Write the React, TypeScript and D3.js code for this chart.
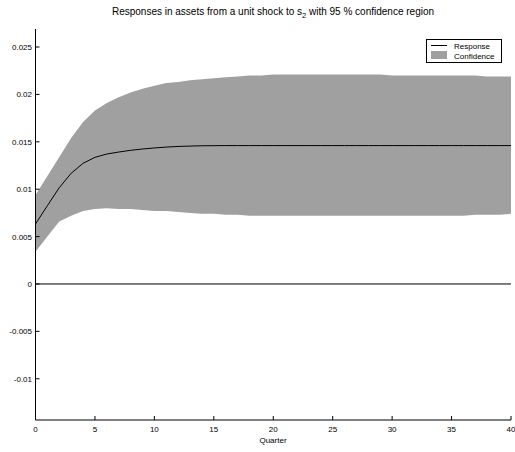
import React from "react";
import * as d3 from "d3";

// Impulse response of assets to a unit shock, quarters 0..40
const quarters = d3.range(0, 41);
const response = [
  0.00633, 0.00826, 0.01016, 0.01168, 0.01273, 0.01336, 0.01371, 0.01392, 0.0141, 0.01424,
  0.01435, 0.01444, 0.01451, 0.01455, 0.01458, 0.01459, 0.0146, 0.0146, 0.0146, 0.0146,
  0.0146, 0.0146, 0.0146, 0.0146, 0.0146, 0.0146, 0.0146, 0.0146, 0.0146, 0.0146,
  0.0146, 0.0146, 0.0146, 0.0146, 0.0146, 0.0146, 0.0146, 0.0146, 0.0146, 0.0146, 0.0146,
];
const upper = [
  0.0094, 0.0114, 0.0134, 0.0154, 0.0171, 0.0183, 0.0191, 0.0197, 0.0202, 0.0206,
  0.0209, 0.0212, 0.0213, 0.0215, 0.0216, 0.0217, 0.0218, 0.0219, 0.022, 0.022,
  0.0221, 0.0221, 0.0221, 0.0221, 0.0221, 0.0221, 0.0221, 0.0221, 0.0221, 0.0221,
  0.022, 0.022, 0.022, 0.022, 0.022, 0.022, 0.022, 0.022, 0.0219, 0.0219, 0.0219,
];
const lower = [
  0.0034, 0.005, 0.0066, 0.0072, 0.0077, 0.0079, 0.008, 0.0079, 0.0079, 0.0078,
  0.0077, 0.0077, 0.0076, 0.0075, 0.0074, 0.0074, 0.0073, 0.0073, 0.0072, 0.0072,
  0.0072, 0.0072, 0.0072, 0.0072, 0.0072, 0.0072, 0.0072, 0.0072, 0.0072, 0.0072,
  0.0072, 0.0072, 0.0072, 0.0072, 0.0072, 0.0072, 0.0072, 0.0073, 0.0073, 0.0073, 0.0074,
];
const xTicks = [0, 5, 10, 15, 20, 25, 30, 35, 40];
const yTicks = [-0.01, -0.005, 0, 0.005, 0.01, 0.015, 0.02, 0.025];
const yTickLabels = ["-0.01", "-0.005", "0", "0.005", "0.01", "0.015", "0.02", "0.025"];

const W = 515;
const H = 452;
const left = 35.5;
const right = 511;
const top = 29;
const bottom = 420;
const font = "Liberation Sans, Arial, Helvetica, sans-serif";

export default function App() {
  const x = d3.scaleLinear().domain([0, 40]).range([left, right]);
  const y = d3.scaleLinear().domain([-0.01435, 0.0269]).range([bottom, top]);

  const rows = quarters.map((q, i) => ({ q, r: response[i], lo: lower[i], hi: upper[i] }));
  const band = d3
    .area<(typeof rows)[number]>()
    .x((d) => x(d.q))
    .y0((d) => y(d.lo))
    .y1((d) => y(d.hi))(rows) as string;
  const line = d3
    .line<(typeof rows)[number]>()
    .x((d) => x(d.q))
    .y((d) => y(d.r))(rows) as string;

  return (
    <svg
      width={W}
      height={H}
      style={{ position: "absolute", left: 0, top: 0, background: "#fff" }}
      fontFamily={font}
    >
      <text x={273} y={15} fontSize={10} textAnchor="middle" fill="#000">
        Responses in assets from a unit shock to s
        <tspan fontSize={7.5} dy={3}>2</tspan>
        <tspan dy={-3}> with 95 % confidence region</tspan>
      </text>

      <path d={band} fill="#a0a0a0" stroke="none" />
      <path d={line} fill="none" stroke="#000" strokeWidth={1} />

      {/* zero line */}
      <line x1={left} x2={right} y1={y(0)} y2={y(0)} stroke="#000" strokeWidth={1} />

      {/* axes */}
      <line x1={left} x2={left} y1={top} y2={bottom} stroke="#000" strokeWidth={1} />
      <line x1={left} x2={right} y1={bottom} y2={bottom} stroke="#000" strokeWidth={1} />

      {yTicks.map((t, i) => (
        <g key={t}>
          <line x1={left} x2={left + 4} y1={y(t)} y2={y(t)} stroke="#000" />
          <text x={left - 3.5} y={y(t) + 3} fontSize={8} textAnchor="end" fill="#000">
            {yTickLabels[i]}
          </text>
        </g>
      ))}
      {xTicks.map((t) => (
        <g key={t}>
          <line x1={x(t)} x2={x(t)} y1={bottom} y2={bottom - 4} stroke="#000" />
          <text x={x(t)} y={bottom + 12} fontSize={8} textAnchor="middle" fill="#000">
            {t}
          </text>
        </g>
      ))}
      <text x={273} y={443} fontSize={8} textAnchor="middle" fill="#000">
        Quarter
      </text>

      {/* legend */}
      <rect x={426.5} y={39.5} width={75} height={23} fill="#fff" stroke="#000" strokeWidth={1} />
      <line x1={431} x2={447} y1={45.5} y2={45.5} stroke="#000" />
      <rect x={431} y={51} width={16} height={8} fill="#a0a0a0" />
      <text x={454} y={48.5} fontSize={8} fill="#000">Response</text>
      <text x={454} y={58.5} fontSize={8} fill="#000">Confidence</text>
    </svg>
  );
}
